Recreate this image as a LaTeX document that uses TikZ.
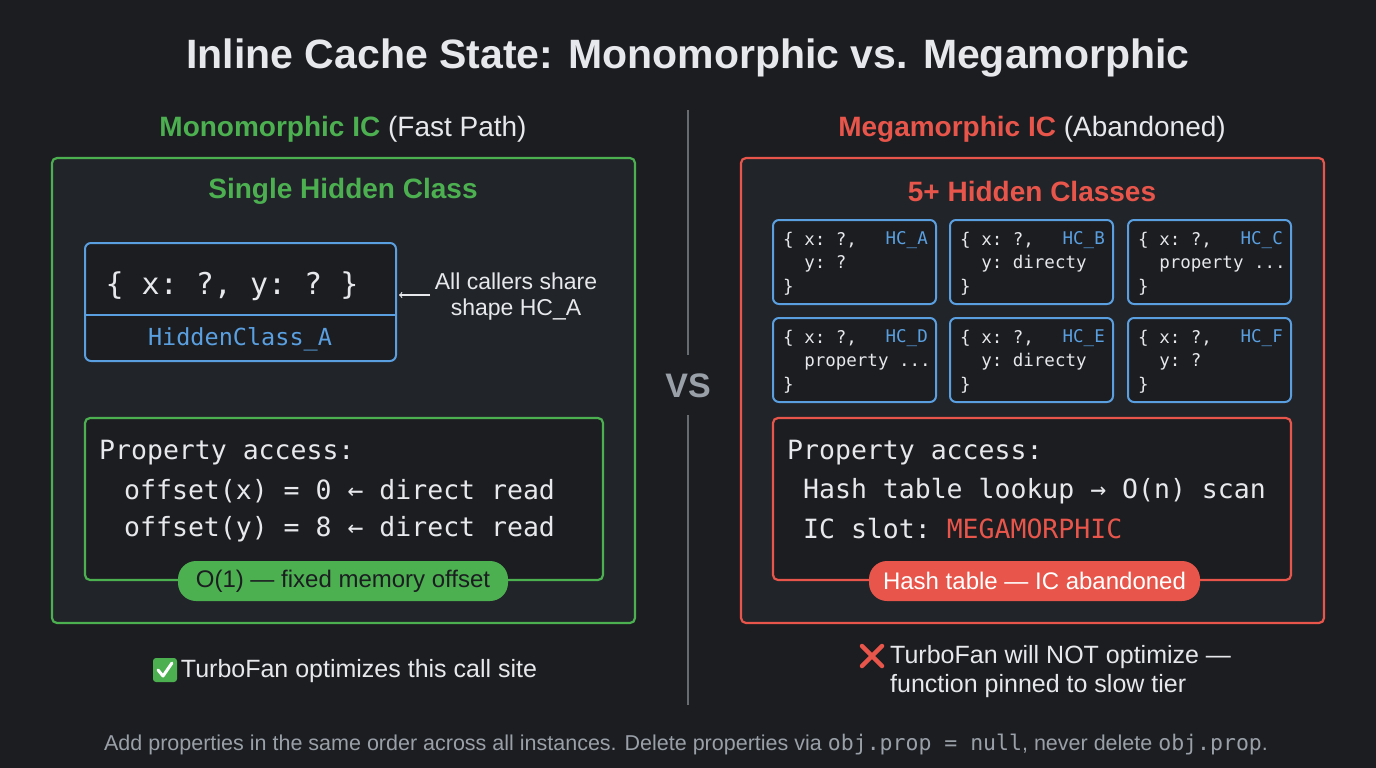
\documentclass[tikz,border=0pt]{standalone}
\usepackage{fontspec}
\setmainfont{Liberation Sans}
\setmonofont{DejaVu Sans Mono}
\definecolor{bg}{HTML}{1B1D21}
\definecolor{panel}{HTML}{212429}
\definecolor{gr}{HTML}{4CAF50}
\definecolor{rd}{HTML}{E8554A}
\definecolor{bl}{HTML}{5A9FE0}
\definecolor{tx}{HTML}{E6E8EB}
\definecolor{mu}{HTML}{9AA0A8}
\begin{document}
\begin{tikzpicture}[x=1pt,y=-1pt,
  fs/.style={font=\fontsize{#1}{#1}\selectfont},
  bfs/.style={font=\bfseries\fontsize{#1}{#1}\selectfont},
  box/.style={draw=#1,line width=2.2pt,rounded corners=5pt,fill=panel},
  hc/.style={draw=bl,line width=2pt,rounded corners=6pt,fill=bg},
  mono/.style={font=\ttfamily\fontsize{#1}{#1}\selectfont,text=tx,anchor=west,inner sep=0},
  pill/.style={fill=#1,rounded corners=18pt,minimum height=40pt,inner sep=0}]
\fill[bg] (0,0) rectangle (1376,768);
\useasboundingbox (0,0) rectangle (1376,768);
\node[bfs=41,text=tx] (title) at (688,58) {Inline Cache State: Monomorphic vs. Megamorphic};
% left
\node[fs=28,text=tx] (lsub) at (343,129) {\textcolor{gr}{\bfseries Monomorphic IC} (Fast Path)};
\node[box=gr,minimum width=583pt,minimum height=465pt] (lp) at (343.5,390.5) {};
\node[bfs=28,text=gr] (lh) at (343,191) {Single Hidden Class};
\draw[hc,fill=bg] (85,243) rectangle (396,361);
\draw[bl,line width=2pt] (85,315) -- (396,315);
\node[font=\ttfamily\fontsize{30}{30}\selectfont,text=tx] (hct) at (232,286) {\{ x: ?, y: ? \}};
\node[font=\ttfamily\fontsize{23.5}{23.5}\selectfont,text=bl] (hcn) at (240,339) {HiddenClass\_A};
\node[fs=23,text=tx,align=center,inner sep=0] (note) at (516,297) {All callers share\\[3pt]shape HC\_A};
\coordinate (na) at (430,295);
\draw[->,tx,line width=1.2pt] (na) -- (399,295);
\draw[box=gr,fill=bg] (85,418) rectangle (603,580);
\node[mono=26.5] (l1) at (99,453) {Property access:};
\node[mono=26.5] (l2) at (124,491) {offset(x) = 0 ← direct read};
\node[mono=26.5] (l3) at (124,529) {offset(y) = 8 ← direct read};
\node[pill=gr,minimum width=330pt,fs=24,text=bg] (p1) at (343,581) {O(1) — fixed memory offset};
\node[fs=25,text=tx] (ok) at (359,671) {TurboFan optimizes this call site};
\fill[gr,rounded corners=3pt] (153,658) rectangle (177,682);
\draw[white,line width=3pt,line cap=round,line join=round] (158,670) -- (163,676) -- (172,663);
% divider
\draw[mu!60!bg,line width=2pt] (688,110) -- (688,355) (688,415) -- (688,705);
\node[bfs=34,text=mu] (vs) at (688,386) {VS};
% right
\node[fs=28,text=tx] (rsub) at (1032,129) {\textcolor{rd}{\bfseries Megamorphic IC} (Abandoned)};
\node[box=rd,minimum width=583pt,minimum height=465pt] (rp) at (1032.5,390.5) {};
\node[bfs=28,text=rd] (rh) at (1032,191) {5+ Hidden Classes};
\foreach \x in {773,950,1128}{
  \foreach \y in {220,318}{
    \draw[hc] (\x,\y) rectangle ++(163,84);
  }}
\foreach \x/\y/\n/\m in {773/220/A/{y: ?},950/220/B/{y: directy},1128/220/C/{property ...},
  773/318/D/{property ...},950/318/E/{y: directy},1128/318/F/{y: ?}}{
  \node[mono=17.5] (a\n) at (\x+10,\y+20) {\{ x: ?,};
  \node[mono=17.5] (b\n) at (\x+10,\y+44) {\ \ \m};
  \node[mono=17.5] (c\n) at (\x+10,\y+67) {\}};
  \node[mono=17.5,text=bl,anchor=east] (h\n) at (\x+155,\y+20) {HC\_\n};
}
\draw[box=rd,fill=bg] (773,418) rectangle (1291,580);
\node[mono=26.5] (r1) at (787,453) {Property access:};
\node[mono=26.5] (r2) at (787,491) {\ Hash table lookup → O(n) scan};
\node[mono=26.5] (r3) at (787,529) {\ IC slot: \textcolor{rd}{MEGAMORPHIC}};
\node[pill=rd,minimum width=331pt,fs=24,text=white] (p2) at (1034.5,581) {Hash table — IC abandoned};
\node[fs=25,text=tx,align=left,anchor=west,inner sep=0] (no) at (890,672) {TurboFan will NOT optimize —\\[4pt]function pinned to slow tier};
\draw[rd,line width=4.5pt,line cap=round] (862,646) -- (882,666) (882,646) -- (862,666);
% footer
\node[fs=21.5,text=mu] (foot) at (686,745) {Add properties in the same order across all instances. Delete properties via {\ttfamily obj.prop = null}, never delete {\ttfamily obj.prop}.};
\end{tikzpicture}
\end{document}
